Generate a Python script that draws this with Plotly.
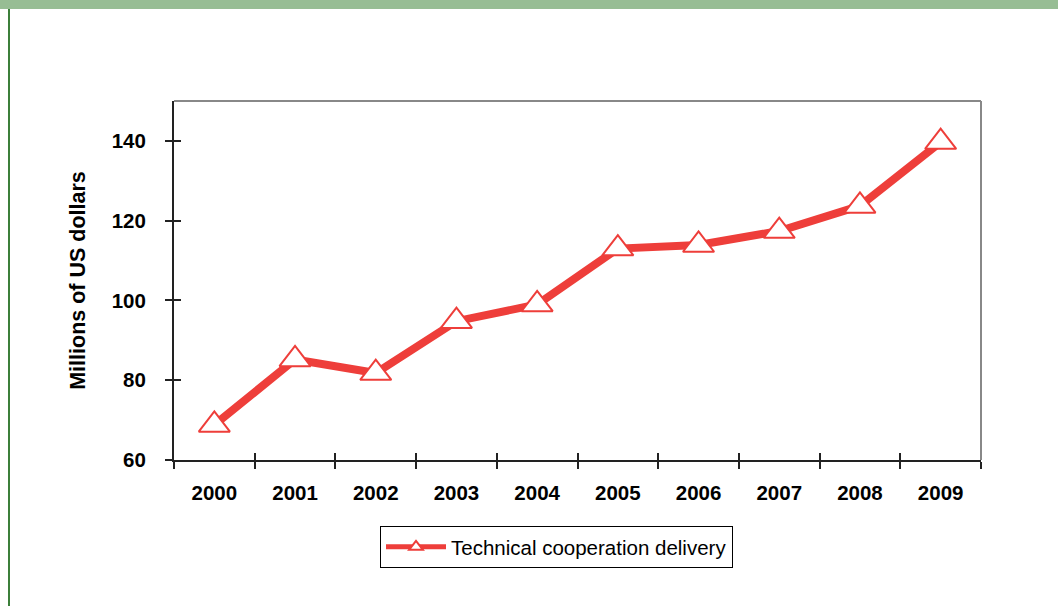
import plotly.graph_objects as go

years = ["2000", "2001", "2002", "2003", "2004", "2005", "2006", "2007", "2008", "2009"]
delivery = [68.8, 85.2, 81.8, 94.8, 99.0, 113.0, 113.9, 117.4, 123.7, 139.7]
y_ticks = [60, 80, 100, 120, 140]
series_name = "Technical cooperation delivery"
y_title = "Millions of US dollars"

RED = "#EE3E3A"
FONT = "Liberation Sans, Arial, sans-serif"

fig = go.Figure()
fig.add_trace(go.Scatter(
    x=years, y=delivery, name=series_name, mode="lines+markers",
    line=dict(color=RED, width=8),
    marker=dict(symbol="triangle-up", size=27, color="white",
                line=dict(color=RED, width=2)),
))
# empty helper trace to register overlay axes (inside half of crossing ticks)
fig.add_trace(go.Scatter(x=[], y=[], xaxis="x2", yaxis="y2", showlegend=False, hoverinfo="skip"))

W, H = 1058, 606
L, R, T, B = 174, 77, 101, 146
pw, ph = W - L - R, H - T - B

def px_x(x):
    return (x - L) / pw

def px_y(y):
    return (H - B - y) / ph

fig.update_layout(
    width=W, height=H,
    margin=dict(l=L, r=R, t=T, b=B),
    paper_bgcolor="white", plot_bgcolor="white",
    font=dict(family=FONT, color="black"),
    showlegend=True,
    legend=dict(
        orientation="h", x=px_x(380), xanchor="left", y=px_y(526), yanchor="top",
        bordercolor="black", borderwidth=1, bgcolor="white",
        font=dict(family=FONT, size=20.5, color="black"),
        itemwidth=60, itemsizing="constant",
    ),
    xaxis=dict(
        type="category", range=[-0.5, 9.5],
        showline=True, linecolor="#222", linewidth=2,
        ticks="outside", ticklen=7, tickwidth=1.5, tickcolor="#222",
        tickson="boundaries", showgrid=False, zeroline=False,
        tickfont=dict(family=FONT, size=20.5, color="black", weight="bold"),
        ticklabelstandoff=13,
    ),
    yaxis=dict(
        range=[60, 150], tickvals=y_ticks,
        showline=True, linecolor="#222", linewidth=2,
        ticks="outside", ticklen=7, tickwidth=1.5, tickcolor="#222",
        showgrid=False, zeroline=False,
        tickfont=dict(family=FONT, size=20.5, color="black", weight="bold"),
        ticklabelstandoff=15,
        title=dict(text=y_title, standoff=20,
                   font=dict(family=FONT, size=21.5, color="black", weight="bold")),
    ),
    xaxis2=dict(
        overlaying="x", anchor="y2", range=[-0.5, 9.5],
        tickmode="linear", tick0=-0.5, dtick=1,
        ticks="inside", ticklen=7, tickwidth=1.5, tickcolor="#222",
        showticklabels=False, showgrid=False, zeroline=False, showline=False,
    ),
    yaxis2=dict(
        overlaying="y", anchor="x2", matches="y", side="left",
        tickvals=y_ticks,
        ticks="inside", ticklen=7, tickwidth=1.5, tickcolor="#222",
        showticklabels=False, showgrid=False, zeroline=False, showline=False,
    ),
    shapes=[
        # top green band
        dict(type="rect", xref="paper", yref="paper",
             x0=px_x(0), x1=px_x(W), y0=px_y(9), y1=px_y(0),
             fillcolor="#97BD94", line=dict(width=0), layer="below"),
        # left green rule
        dict(type="line", xref="paper", yref="paper",
             x0=px_x(9), x1=px_x(9), y0=px_y(9), y1=px_y(H),
             line=dict(color="#3C7F3A", width=2), layer="below"),
        # gray top border
        dict(type="line", xref="paper", yref="paper", x0=0, x1=1, y0=1, y1=1,
             line=dict(color="#888888", width=2), layer="below"),
        # gray right border
        dict(type="line", xref="paper", yref="paper", x0=1, x1=1, y0=0, y1=1,
             line=dict(color="#888888", width=2), layer="below"),
    ],
)

fig.write_html(
    "out.html",
    config={"displayModeBar": False},
    post_script="document.body.style.margin='0';document.body.style.overflow='hidden';",
)
